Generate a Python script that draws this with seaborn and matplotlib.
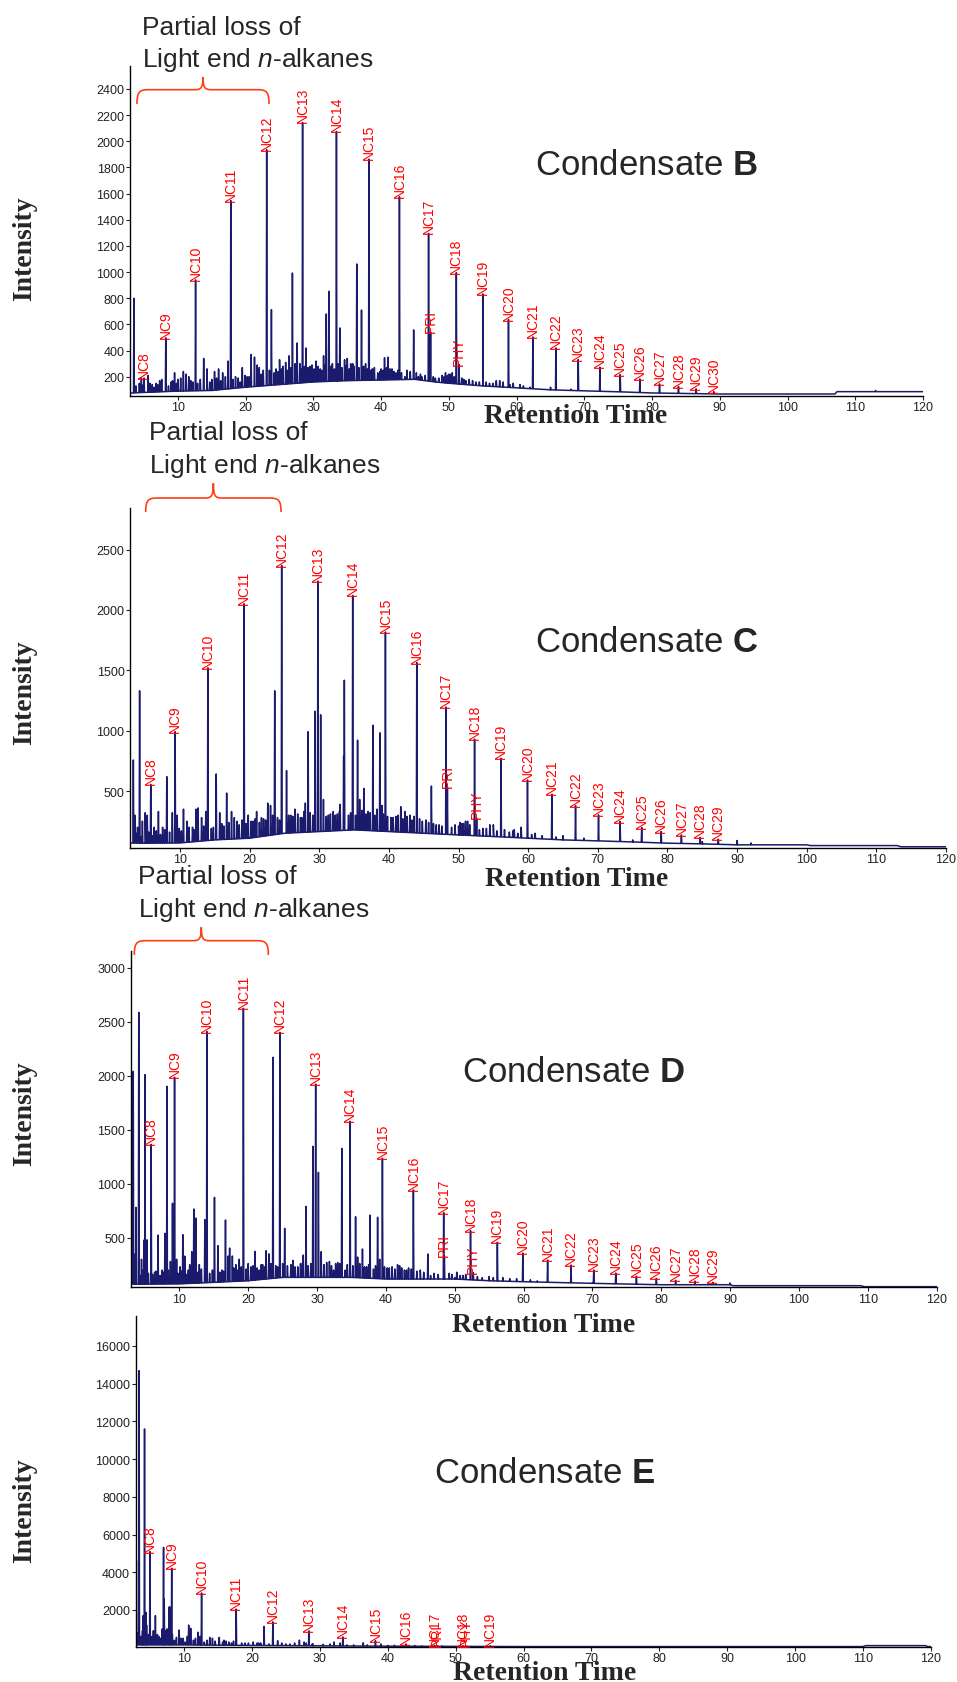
import numpy as np
import pandas as pd
import matplotlib
matplotlib.use("Agg")
import matplotlib.pyplot as plt
import seaborn as sns
from matplotlib.path import Path
from matplotlib.patches import PathPatch

# ---------------- DATA ----------------
X_TICKS = [10, 20, 30, 40, 50, 60, 70, 80, 90, 100, 110, 120]

# Condensate B
B_LAB_NAMES = ["NC8", "NC9", "NC10", "NC11", "NC12", "NC13", "NC14", "NC15", "NC16", "NC17", "PRI",
               "NC18", "PHY", "NC19", "NC20", "NC21", "NC22", "NC23", "NC24", "NC25", "NC26", "NC27",
               "NC28", "NC29", "NC30"]
B_LAB_T = [5.0, 8.2, 12.6, 17.8, 23.1, 28.4, 33.4, 38.2, 42.7, 47.0, 47.3, 51.1, 51.5, 55.0, 58.8,
           62.4, 65.8, 69.1, 72.3, 75.3, 78.2, 81.1, 83.9, 86.5, 89.1]
B_LAB_H = [190, 497, 940, 1546, 1935, 2144, 2075, 1864, 1576, 1296, 542, 995, 293, 833, 637,
           504, 420, 331, 273, 216, 183, 145, 125, 107, 86]
B_MIN_T = [3.5, 4.3, 4.6, 5.6, 6.2, 6.8, 7.3, 7.6, 9.0, 9.5, 10.0, 10.8, 11.2, 11.6, 12.2, 13.8, 14.3,
           15.0, 15.4, 16.0, 16.6, 17.4, 18.5, 19.5, 20.2, 20.8, 21.3, 21.7, 22.0, 22.6, 23.8, 24.5,
           25.0, 25.5, 25.9, 26.4, 26.9, 27.6, 28.0, 28.9, 29.5, 30.4, 31.0, 31.5, 31.9, 32.3, 32.8,
           33.9, 34.6, 35.0, 35.5, 36.0, 36.4, 37.1, 37.7, 38.7, 39.5, 40.0, 40.5, 41.0, 41.6, 42.2,
           43.5, 44.8, 45.5, 46.0, 48.0, 49.0, 49.5, 50.0, 50.5, 52.5, 53.0, 54.0, 56.0, 57.5, 58.0,
           60.5, 62.0, 65.0, 68.0, 113.0]
B_MIN_H = [800, 150, 190, 210, 140, 150, 170, 180, 160, 230, 180, 240, 220, 200, 160, 340, 260,
           180, 240, 260, 230, 320, 200, 270, 200, 370, 350, 290, 270, 250, 713, 260,
           330, 280, 310, 360, 993, 458, 300, 420, 280, 320, 260, 360, 680, 853, 300,
           573, 330, 340, 300, 280, 1062, 710, 300, 260, 230, 260, 345, 350, 260, 230,
           200, 558, 200, 200, 190, 210, 230, 220, 230, 170, 180, 160, 150, 170, 160,
           140, 120, 120, 105, 95]
B_NOI_T = [3.8, 4.9, 5.9, 6.5, 7.0, 8.6, 9.2, 9.8, 10.4, 11.9, 12.9, 13.3, 14.7, 15.7, 16.3, 17.0,
           18.1, 18.9, 19.2, 19.9, 20.5, 21.9, 22.3, 23.5, 24.2, 24.8, 25.3, 26.1, 26.7, 27.3, 28.2,
           28.7, 29.2, 29.8, 30.1, 30.7, 31.2, 31.7, 32.6, 33.1, 33.6, 34.2, 34.9, 35.3, 35.8, 36.7,
           37.4, 38.0, 38.5, 39.0, 39.8, 40.3, 40.8, 41.3, 41.9, 42.5, 43.0, 43.8, 44.3, 45.2, 45.8,
           46.5, 47.7, 48.5, 49.3, 49.8, 50.3, 50.8, 51.9, 52.2, 53.5, 54.5, 55.5, 56.5, 57.0, 59.0,
           59.5, 61.0]
B_NOI_H = [130, 140, 150, 120, 140, 130, 170, 150, 190, 170, 150, 180, 160, 190, 170, 200,
           180, 190, 160, 210, 200, 230, 220, 250, 230, 240, 260, 250, 270, 300, 260,
           280, 270, 290, 260, 280, 250, 290, 280, 260, 300, 270, 290, 260, 300, 270,
           280, 260, 250, 270, 240, 250, 270, 260, 240, 250, 230, 250, 240, 230, 220,
           210, 200, 190, 200, 210, 220, 200, 190, 180, 170, 160, 160, 150, 170, 140,
           150, 130]
B_BASE_T = [2.9, 5, 10, 15, 20, 25, 30, 35, 40, 45, 48, 50, 55, 60, 65, 70, 75, 80, 85, 90, 107, 107.3, 120]
B_BASE_I = [75, 80, 90, 95, 120, 140, 160, 170, 175, 180, 160, 150, 130, 115, 100, 92, 85, 76, 72, 68, 68, 86, 86]
B_YTICKS = [200, 400, 600, 800, 1000, 1200, 1400, 1600, 1800, 2000, 2200, 2400]

# Condensate C
C_LAB_NAMES = ["NC8", "NC9", "NC10", "NC11", "NC12", "NC13", "NC14", "NC15", "NC16", "NC17", "PRI",
               "NC18", "PHY", "NC19", "NC20", "NC21", "NC22", "NC23", "NC24", "NC25", "NC26", "NC27",
               "NC28", "NC29"]
C_LAB_T = [5.8, 9.3, 14.0, 19.2, 24.6, 29.8, 34.8, 39.5, 44.0, 48.2, 48.4, 52.3, 52.6, 56.1, 59.9,
           63.4, 66.8, 70.1, 73.2, 76.3, 79.1, 82.0, 84.7, 87.3]
C_LAB_H = [555, 991, 1520, 2051, 2368, 2239, 2120, 1817, 1564, 1196, 533, 930, 274, 770, 591,
           473, 379, 302, 247, 197, 164, 136, 115, 101]
C_MIN_T = [3.3, 3.5, 3.9, 4.2, 4.6, 5.0, 5.3, 6.3, 6.9, 7.5, 8.1, 8.9, 9.6, 10.5, 11.0, 11.8, 12.3,
           12.6, 13.1, 13.7, 15.2, 15.7, 16.7, 17.4, 17.8, 18.2, 19.8, 20.5, 21.0, 22.0, 22.6, 23.0,
           23.6, 25.3, 25.9, 26.5, 27.3, 27.8, 28.0, 28.4, 29.4, 30.2, 30.6, 31.3, 32.0, 32.6, 33.0,
           33.5, 33.6, 34.2, 35.5, 35.8, 36.4, 37.0, 37.7, 38.3, 38.7, 39.0, 40.3, 41.0, 41.7, 42.3,
           43.0, 43.6, 46.1, 46.8, 50.0, 50.5, 51.0, 53.5, 54.5, 55.0, 58.0, 59.0, 61.0, 65.0, 68.0,
           75.0, 85.0, 90.0, 92.0]
C_MIN_H = [757, 300, 200, 1330, 250, 320, 300, 200, 330, 200, 619, 320, 300, 350, 250, 200, 350,
           360, 280, 330, 641, 320, 483, 330, 280, 250, 300, 250, 330, 270, 400, 380,
           1330, 669, 300, 350, 280, 330, 400, 991, 1161, 1131, 430, 300, 330, 310, 390,
           789, 1418, 300, 921, 430, 522, 330, 1045, 350, 982, 380, 280, 290, 370, 330,
           300, 290, 541, 220, 210, 230, 250, 190, 220, 220, 180, 200, 150, 130, 110,
           95, 80, 90, 70]
C_NOI_T = [3.7, 4.4, 5.5, 6.0, 6.6, 7.2, 7.8, 8.5, 9.9, 10.2, 11.3, 12.0, 13.4, 14.5, 14.8, 16.0,
           16.3, 17.0, 18.5, 18.9, 19.5, 20.2, 20.8, 21.4, 21.7, 22.3, 23.3, 24.0, 24.3, 25.6, 26.2,
           26.9, 27.5, 28.7, 29.1, 31.0, 31.6, 32.3, 32.9, 34.5, 35.2, 36.1, 36.7, 37.3, 38.0, 39.2,
           39.8, 40.6, 41.3, 42.0, 42.6, 43.3, 44.4, 44.8, 45.3, 45.7, 46.4, 47.2, 47.6, 49.0, 49.5,
           50.2, 50.7, 51.3, 51.6, 53.0, 54.0, 55.5, 56.6, 57.3, 57.8, 58.5, 60.5, 62.0, 64.0]
C_NOI_H = [150, 120, 160, 130, 170, 140, 180, 160, 190, 170, 200, 180, 210, 190, 200, 230,
           210, 240, 220, 260, 230, 250, 270, 240, 280, 260, 300, 280, 260, 300, 290,
           310, 280, 320, 300, 290, 310, 300, 330, 320, 300, 340, 310, 320, 300, 310,
           290, 280, 300, 270, 290, 260, 270, 250, 260, 240, 230, 220, 210, 200, 220,
           240, 230, 250, 220, 180, 190, 170, 180, 160, 170, 150, 140, 130, 120]
C_BASE_T = [2.8, 5, 10, 15, 20, 25, 30, 35, 40, 45, 50, 55, 60, 65, 70, 75, 80, 85, 90, 100, 100.5,
            113, 113.5, 120]
C_BASE_I = [70, 68, 70, 95, 109, 150, 164, 178, 164, 150, 136, 123, 109, 95, 87, 78, 68, 62, 54, 54,
            48, 48, 38, 38]
C_YTICKS = [500, 1000, 1500, 2000, 2500]

# Condensate D
D_LAB_NAMES = ["NC8", "NC9", "NC10", "NC11", "NC12", "NC13", "NC14", "NC15", "NC16", "NC17", "PRI",
               "NC18", "PHY", "NC19", "NC20", "NC21", "NC22", "NC23", "NC24", "NC25", "NC26", "NC27",
               "NC28", "NC29"]
D_LAB_T = [5.9, 9.3, 14.0, 19.3, 24.6, 29.8, 34.8, 39.5, 44.0, 48.4, 48.5, 52.3, 52.7, 56.2, 59.9,
           63.5, 66.9, 70.2, 73.4, 76.4, 79.3, 82.1, 84.9, 87.5]
D_LAB_H = [1365, 1987, 2410, 2626, 2403, 1924, 1579, 1236, 942, 732, 333, 565, 176, 457, 358,
           293, 247, 200, 172, 142, 123, 105, 98, 86]
D_MIN_T = [2.9, 3.3, 3.6, 3.7, 4.1, 4.5, 4.9, 5.0, 5.3, 6.4, 6.9, 7.5, 7.9, 8.2, 8.7, 9.0, 9.6, 10.1,
           10.5, 10.8, 11.5, 11.8, 12.1, 12.4, 12.9, 13.7, 15.1, 15.6, 16.2, 16.7, 17.1, 17.3, 17.7,
           18.2, 18.7, 20.0, 20.4, 21.0, 21.6, 22.1, 22.6, 23.0, 23.6, 25.3, 26.5, 27.2, 27.6, 28.0,
           28.4, 29.4, 30.2, 30.6, 31.8, 32.4, 33.0, 33.3, 33.6, 34.1, 35.6, 35.9, 36.6, 37.2, 37.7,
           38.2, 38.8, 39.1, 40.5, 41.7, 42.0, 42.7, 43.3, 46.1, 46.5, 50.0, 50.8, 54.0, 55.0, 58.0,
           62.0, 70.0, 90.0]
D_MIN_H = [571, 2042, 350, 781, 2589, 300, 480, 2011, 480, 180, 525, 200, 541, 1903, 280, 819, 300, 230,
           528, 330, 250, 370, 766, 682, 250, 667, 874, 426, 200, 664, 330, 404, 330,
           250, 300, 260, 230, 373, 200, 250, 379, 350, 2172, 587, 290, 230, 260, 339,
           790, 1347, 1106, 370, 280, 200, 270, 260, 1328, 200, 694, 320, 395, 230, 710,
           210, 689, 300, 220, 250, 240, 200, 220, 349, 150, 130, 150, 130, 140, 120,
           100, 80, 80]
D_NOI_T = [3.5, 4.3, 4.7, 5.5, 6.1, 6.6, 7.2, 7.7, 8.4, 9.8, 10.3, 11.1, 11.3, 12.7, 13.2, 14.4,
           14.8, 15.9, 16.4, 17.9, 18.4, 19.0, 19.7, 20.7, 21.3, 21.9, 22.4, 23.3, 24.0, 24.3, 25.0,
           25.7, 26.2, 26.8, 27.9, 28.7, 29.1, 31.0, 31.4, 32.1, 32.7, 34.4, 35.2, 36.2, 36.9, 37.5,
           38.5, 39.8, 40.2, 40.9, 41.3, 42.3, 43.0, 43.7, 44.5, 45.0, 45.5, 47.0, 47.6, 49.2, 49.6,
           50.3, 51.2, 51.6, 53.3, 55.6, 57.0, 59.0, 61.0]
D_NOI_H = [180, 150, 200, 170, 160, 190, 150, 180, 200, 170, 190, 160, 200, 180, 210, 170,
           200, 180, 190, 220, 200, 230, 210, 240, 220, 250, 230, 260, 240, 230, 260,
           240, 250, 230, 270, 240, 260, 250, 270, 240, 260, 250, 240, 260, 230, 250,
           240, 230, 220, 230, 210, 220, 200, 210, 190, 200, 180, 170, 160, 170, 160,
           180, 150, 160, 140, 130, 130, 120, 110]
D_BASE_T = [2.9, 5, 10, 15, 20, 25, 30, 35, 40, 45, 50, 55, 60, 70, 80, 90, 90.5, 109, 109.5, 120]
D_BASE_I = [70, 70, 72, 86, 101, 132, 132, 132, 117, 117, 117, 101, 92, 77, 64, 64, 55, 55, 46, 46]
D_YTICKS = [500, 1000, 1500, 2000, 2500, 3000]

# Condensate E
E_LAB_NAMES = ["NC8", "NC9", "NC10", "NC11", "NC12", "NC13", "NC14", "NC15", "NC16", "NC17", "PRI",
               "NC18", "PHY", "NC19"]
E_LAB_T = [5.0, 8.2, 12.6, 17.7, 23.1, 28.4, 33.4, 38.2, 42.7, 46.9, 47.3, 51.1, 51.5, 55.1]
E_LAB_H = [5090, 4210, 2900, 2050, 1370, 890, 570, 370, 200, 110, 100, 100, 95, 100]
E_MIN_T = [3.0, 3.4, 3.7, 4.0, 4.2, 4.4, 4.7, 5.3, 5.8, 6.1, 6.5, 6.8, 7.0, 7.1, 7.3, 7.8, 7.9, 8.6,
           8.9, 9.3, 9.6, 10.2, 10.7, 11.0, 11.4, 12.1, 13.0, 13.8, 14.2, 15.2, 15.7, 16.2, 17.0,
           19.5, 20.8, 21.3, 21.8, 23.8, 25.0, 27.0, 27.7, 29.0, 32.1, 34.0, 36.4, 40.0, 45.0]
E_MIN_H = [4614, 14690, 600, 1700, 11600, 1870, 700, 600, 1700, 700, 500, 990, 5320, 2580, 900, 2140,
           2170, 400, 550, 940, 500, 300, 1200, 1030, 400, 820, 300, 550, 500, 550, 300, 350, 250,
           250, 250, 250, 1130, 370, 200, 400, 300, 200, 300, 150, 260, 120, 100]
E_NOI_T = [3.2, 3.9, 4.5, 5.5, 6.3, 7.5, 8.3, 9.9, 10.5, 11.7, 12.4, 13.4, 14.6, 15.9, 16.6, 17.3,
           18.5, 19.0, 20.2, 21.0, 22.5, 24.4, 25.6, 26.3, 28.0, 28.9, 30.5, 31.5, 33.0, 35.0, 37.0,
           39.0, 41.0, 44.0, 48.0]
E_NOI_H = [800, 900, 1200, 900, 600, 1000, 700, 500, 600, 500, 600, 400, 350, 400, 300, 350,
           250, 250, 300, 250, 200, 250, 200, 250, 250, 200, 180, 200, 250, 150, 150,
           200, 130, 120, 100]
E_BASE_T = [2.9, 10, 20, 30, 40, 60, 110, 110.4, 119.2, 119.5, 120]
E_BASE_I = [150, 150, 120, 100, 80, 60, 60, 110, 110, 60, 60]
E_YTICKS = [2000, 4000, 6000, 8000, 10000, 12000, 14000, 16000]

TITLES = ["B", "C", "D", "E"]

# ---------------- STYLE ----------------
sns.set_style("ticks")
plt.rcParams["font.family"] = ["Liberation Sans Narrow", "Liberation Sans", "DejaVu Sans"]
plt.rcParams["mathtext.fontset"] = "custom"
plt.rcParams["mathtext.rm"] = "Liberation Sans"
plt.rcParams["mathtext.it"] = "Liberation Sans:italic"
plt.rcParams["mathtext.bf"] = "Liberation Sans:bold"

TRACE = "#1b1b6e"
RED = "#ff0000"
BRACE = "#ff4010"
W, H = 957, 1683
fig = plt.figure(figsize=(W / 100, H / 100), dpi=100)
fig.patch.set_facecolor("white")


def fx(x):
    return x / W


def fy(y):
    return 1 - y / H


def add_axes(l, t, r, b):
    return fig.add_axes([l / W, 1 - b / H, (r - l) / W, (b - t) / H])


def build_trace(base_t, base_i, pk_t, pk_h, w=0.06):
    pts = list(zip(base_t, base_i))
    for t, h in zip(pk_t, pk_h):
        b = float(np.interp(t, base_t, base_i))
        pts += [(t - w, b), (t, h), (t + w, b)]
    pts.sort(key=lambda p: p[0])
    return pd.DataFrame(pts, columns=["t", "I"])


panels = [
    dict(box=(130, 66.7, 923, 396.7), xlim=(2.92, 120), ylim=(55, 2578), yt=B_YTICKS,
         names=B_LAB_NAMES, lt=B_LAB_T, lh=B_LAB_H, mt=B_MIN_T + B_NOI_T, mh=B_MIN_H + B_NOI_H,
         bt=B_BASE_T, bi=B_BASE_I),
    dict(box=(130, 509.3, 946, 848.5), xlim=(2.82, 120), ylim=(32, 2842), yt=C_YTICKS,
         names=C_LAB_NAMES, lt=C_LAB_T, lh=C_LAB_H, mt=C_MIN_T + C_NOI_T, mh=C_MIN_H + C_NOI_H,
         bt=C_BASE_T, bi=C_BASE_I),
    dict(box=(130.5, 951.7, 936.5, 1288), xlim=(2.9, 120), ylim=(43, 3160), yt=D_YTICKS,
         names=D_LAB_NAMES, lt=D_LAB_T, lh=D_LAB_H, mt=D_MIN_T + D_NOI_T, mh=D_MIN_H + D_NOI_H,
         bt=D_BASE_T, bi=D_BASE_I),
    dict(box=(135.7, 1317.3, 931, 1647.7), xlim=(2.9, 120), ylim=(53, 17575), yt=E_YTICKS,
         names=E_LAB_NAMES, lt=E_LAB_T, lh=E_LAB_H, mt=E_MIN_T + E_NOI_T, mh=E_MIN_H + E_NOI_H,
         bt=E_BASE_T, bi=E_BASE_I),
]

for p in panels:
    ax = add_axes(*p["box"])
    df = build_trace(p["bt"], p["bi"], list(p["lt"]) + list(p["mt"]), list(p["lh"]) + list(p["mh"]))
    sns.lineplot(data=df, x="t", y="I", ax=ax, color=TRACE, linewidth=1.1,
                 estimator=None, sort=False)
    ax.set_xlim(*p["xlim"])
    ax.set_ylim(*p["ylim"])
    ax.set_xticks(X_TICKS)
    ax.set_yticks(p["yt"])
    ax.set_xlabel("")
    ax.set_ylabel("")
    ax.set_facecolor("none")
    for s in ["top", "right"]:
        ax.spines[s].set_visible(False)
    for s in ["left", "bottom"]:
        ax.spines[s].set_color("black")
        ax.spines[s].set_linewidth(1.0)
    ax.tick_params(axis="both", length=3, width=0.8, pad=1, labelsize=9, colors="#222222")
    for name, t, h in zip(p["names"], p["lt"], p["lh"]):
        ax.text(t, h, name, rotation=90, ha="center", va="bottom", color=RED,
                fontsize=10, family="Liberation Sans")

# titles
title_pos = [(646, 175), (646.7, 652.3), (573.8, 1081.7), (544.5, 1483)]
for letter, (x, y) in zip(TITLES, title_pos):
    fig.text(fx(x), fy(y), "Condensate $\\mathbf{" + letter + "}$", ha="center", va="baseline",
             fontsize=25, family="Liberation Sans")

# axis labels
for y in [248.5, 692.5, 1113.3, 1510.8]:
    fig.text(fx(25), fy(y), "Intensity", rotation=90, ha="center", va="center",
             fontsize=20, fontweight="bold", family="Liberation Serif")
for x, y in [(576, 423.3), (577, 886), (544, 1331.7), (544.7, 1680)]:
    fig.text(fx(x), fy(y), "Retention Time", ha="center", va="baseline",
             fontsize=20, fontweight="bold", family="Liberation Serif")

# annotations "Partial loss of / Light end n-alkanes"
for x, y1, y2 in [(141.7, 35, 66.7), (149, 440, 473.3), (137.7, 884, 916.7)]:
    fig.text(fx(x), fy(y1), "Partial loss of", ha="left", va="baseline", fontsize=19,
             family="Liberation Sans")
    fig.text(fx(x), fy(y2), "Light end $\\it{n}$-alkanes", ha="left", va="baseline", fontsize=19,
             family="Liberation Sans")


def brace(xl, xr, yb, yh, yt):
    xc = (xl + xr) / 2
    r = 11
    v = [(xl, yb),
         (xl, yh + 3), (xl + 2, yh), (xl + r, yh),
         (xc - 8, yh),
         (xc - 2, yh), (xc, yh - 2), (xc, yt),
         (xc, yh - 2), (xc + 2, yh), (xc + 8, yh),
         (xr - r, yh),
         (xr - 2, yh), (xr, yh + 3), (xr, yb)]
    c = [Path.MOVETO, Path.CURVE4, Path.CURVE4, Path.CURVE4, Path.LINETO,
         Path.CURVE4, Path.CURVE4, Path.CURVE4, Path.CURVE4, Path.CURVE4, Path.CURVE4,
         Path.LINETO, Path.CURVE4, Path.CURVE4, Path.CURVE4]
    v = [(fx(a), fy(b)) for a, b in v]
    fig.patches.append(PathPatch(Path(v, c), transform=fig.transFigure, fill=False,
                                 edgecolor=BRACE, linewidth=1.2))


brace(137, 269, 105, 90.7, 78)
brace(145.7, 281, 513, 499, 484.3)
brace(134.3, 268.3, 956, 941.7, 928.3)

fig.savefig("out.png", dpi=100, facecolor="white")
